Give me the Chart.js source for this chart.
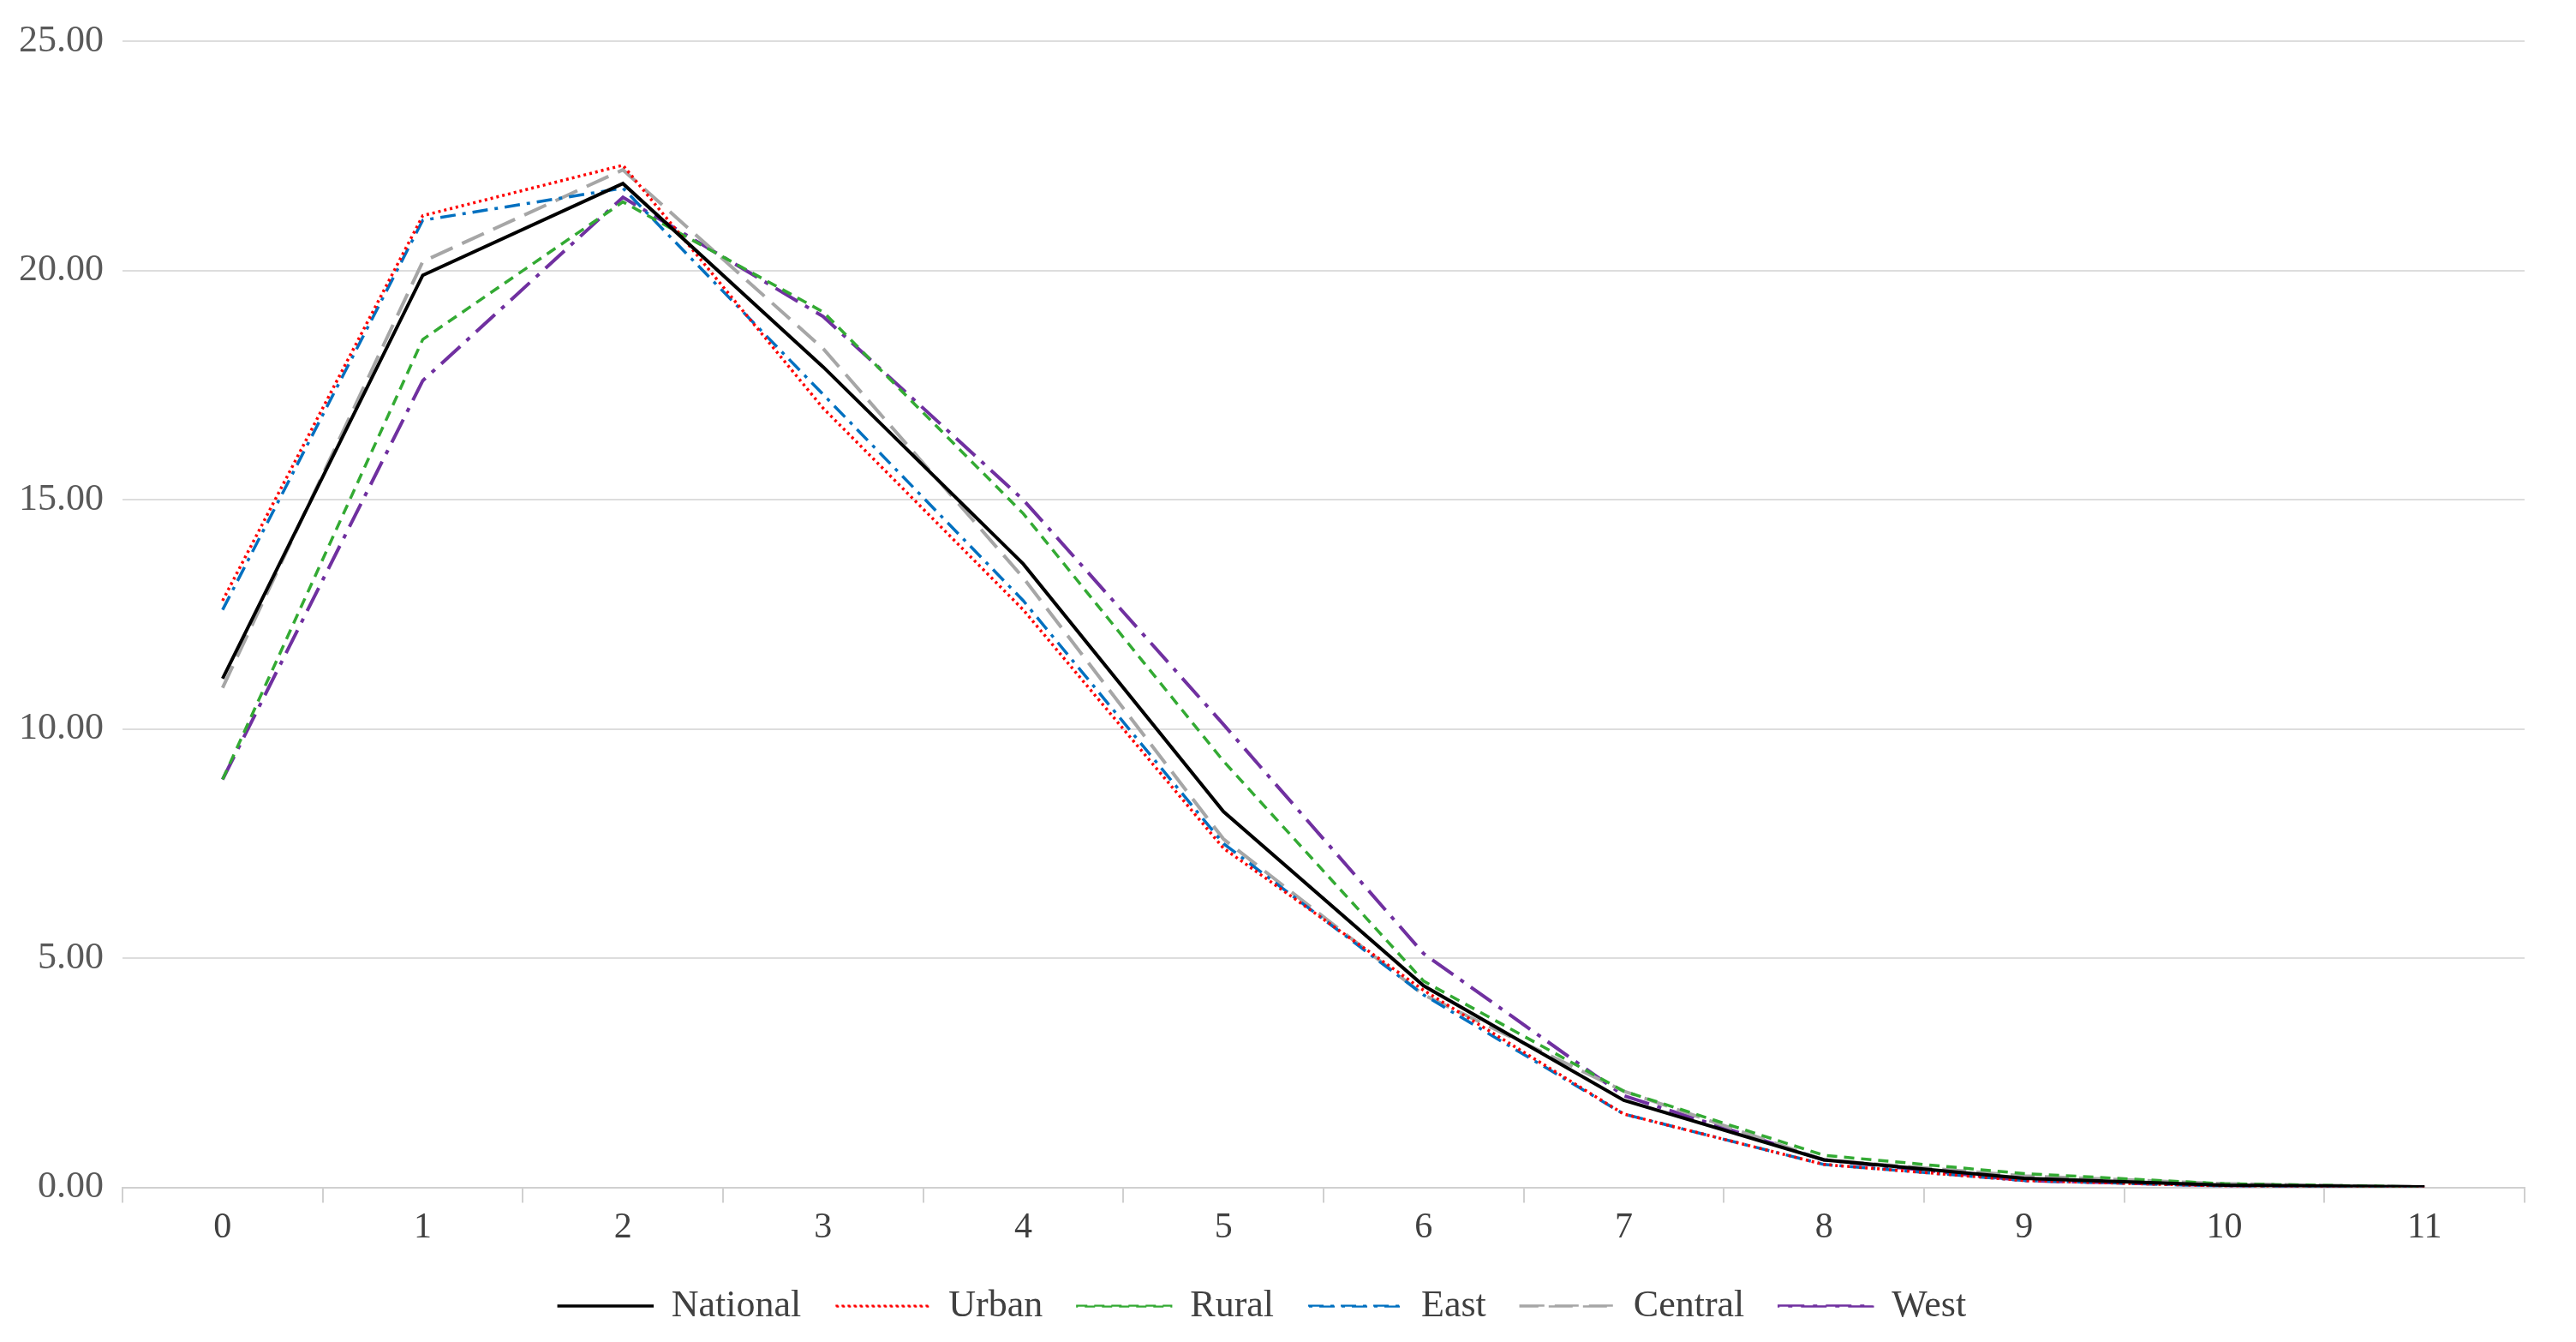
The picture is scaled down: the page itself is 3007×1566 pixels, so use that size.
<!DOCTYPE html>
<html>
<head>
<meta charset="utf-8">
<script src="https://cdn.jsdelivr.net/npm/chart.js@4/dist/chart.umd.min.js"></script>
<style>
  html, body { margin: 0; padding: 0; background: #fff; }
  #wrap { width: 3007px; height: 1566px; }
</style>
</head>
<body>
<div id="wrap"><canvas id="c"></canvas></div>
<script>
const categories = ['0', '1', '2', '3', '4', '5', '6', '7', '8', '9', '10', '11'];
const national = [11.1, 19.9, 21.9, 17.9, 13.6, 8.2, 4.4, 1.9, 0.6, 0.2, 0.05, 0.01];
const urban    = [12.8, 21.2, 22.3, 17.0, 12.6, 7.4, 4.3, 1.6, 0.5, 0.15, 0.03, 0.0];
const rural    = [8.9, 18.5, 21.5, 19.1, 14.7, 9.3, 4.5, 2.1, 0.7, 0.3, 0.08, 0.01];
const east     = [12.6, 21.1, 21.8, 17.3, 12.8, 7.5, 4.2, 1.6, 0.5, 0.15, 0.03, 0.0];
const central  = [10.9, 20.2, 22.2, 18.3, 13.3, 7.6, 4.2, 2.1, 0.6, 0.25, 0.08, 0.01];
const west     = [8.9, 17.6, 21.6, 19.0, 15.0, 10.1, 5.1, 2.0, 0.6, 0.15, 0.04, 0.0];

function series(label, data, color, dash, width) {
    return { label, data, borderColor: color, backgroundColor: color, borderDash: dash,
             borderWidth: width, pointRadius: 0, tension: 0, fill: false };
}

const FONT = 'Liberation Serif';

new Chart(document.getElementById('c'), {
    type: 'line',
    data: {
        labels: categories,
        datasets: [
            series('National', national, '#000000', [], 4),
            series('Urban', urban, '#ff0000', [3, 4], 3.5),
            series('Rural', rural, '#33aa33', [12, 8], 3.5),
            series('East', east, '#0070c0', [18, 8, 4, 8], 3.5),
            series('Central', central, '#a6a6a6', [28, 12], 4),
            series('West', west, '#7030a0', [30, 10, 5, 10], 4)
        ]
    },
    options: {
        responsive: true,
        maintainAspectRatio: false,
        animation: false,
        layout: { padding: { left: 0, right: 60, top: 25, bottom: 10 } },
        plugins: {
            tooltip: { enabled: false },
            legend: {
                position: 'bottom',
                labels: {
                    color: '#404040',
                    font: { family: FONT, size: 44 },
                    boxWidth: 110,
                    boxHeight: 1,
                    padding: 40,
                    generateLabels: chart => chart.data.datasets.map((ds, i) => ({
                        text: ds.label,
                        datasetIndex: i,
                        fillStyle: 'rgba(0,0,0,0)',
                        strokeStyle: ds.borderColor,
                        lineWidth: ds.borderWidth / 2 + 0.5,
                        lineDash: ds.borderDash,
                        fontColor: '#404040',
                        hidden: false
                    }))
                }
            }
        },
        scales: {
            x: {
                offset: true,
                grid: { offset: true, drawOnChartArea: false, color: '#d0d0d0', tickLength: 18, lineWidth: 2 },
                border: { color: '#d0d0d0', width: 2 },
                ticks: { color: '#404040', font: { family: FONT, size: 42 }, padding: 4 }
            },
            y: {
                min: 0, max: 25,
                grid: { color: '#dddddd', lineWidth: 2, drawTicks: false },
                border: { display: false },
                ticks: { stepSize: 5, color: '#595959', padding: 22,
                         font: { family: FONT, size: 44 },
                         callback: v => v.toFixed(2) }
            }
        }
    }
});
</script>
</body>
</html>
